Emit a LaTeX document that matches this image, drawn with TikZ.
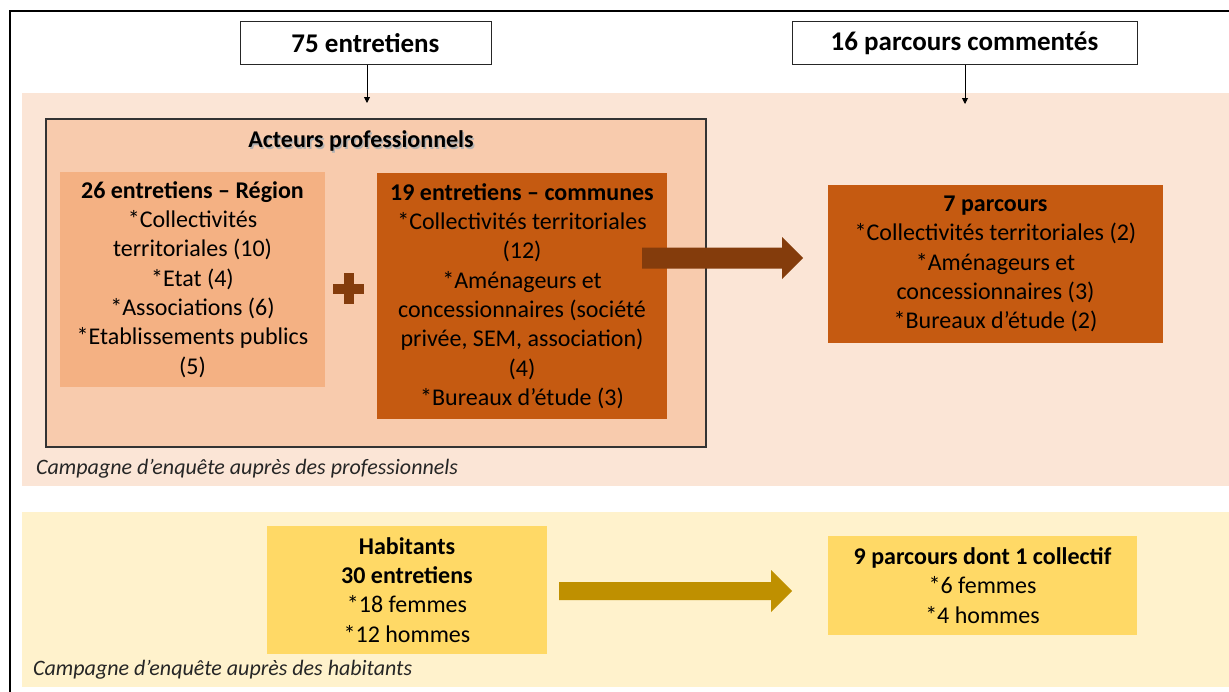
\documentclass[tikz,border=0pt]{standalone}
\usepackage{fontspec}
\setmainfont{Carlito}
\usetikzlibrary{arrows.meta}
\definecolor{pinkbg}{HTML}{FBE5D6}
\definecolor{peach}{HTML}{F8CBAD}
\definecolor{lorange}{HTML}{F4B183}
\definecolor{dorange}{HTML}{C55A11}
\definecolor{dbrown}{HTML}{843C0C}
\definecolor{ylbg}{HTML}{FFF2CC}
\definecolor{ylbox}{HTML}{FFD966}
\definecolor{ylarrow}{HTML}{BF9000}
\begin{document}
\begin{tikzpicture}[x=1pt,y=-1pt,
  txt/.style={font=\fontsize{24}{29.3}\selectfont, align=center, inner sep=0pt},
  topbox/.style={draw=black!85, line width=1pt, fill=white, font=\bfseries\fontsize{27}{30}\selectfont, inner sep=0pt},
  thinarrow/.style={draw=black, line width=0.9pt, -{Triangle[width=6pt,length=6pt]}},
  caption/.style={font=\itshape\fontsize{22}{26}\selectfont, anchor=west, inner sep=0pt, text=black!85},
  titletxt/.style={font=\bfseries\fontsize{24}{29}\selectfont, inner sep=0pt}
]
\useasboundingbox (0,0) rectangle (1229,691);
\clip (0,0) rectangle (1229,691);
\fill[white] (0,0) rectangle (1229,691);
% outer frame
\draw[line width=2pt] (10,720) -- (10,11) -- (1260,11);
% background bands
\fill[pinkbg] (22,93) rectangle (1260,486);
\fill[ylbg] (22,512) rectangle (1260,687);
% top boxes
\node[topbox, minimum width=251pt, minimum height=43pt] (b75) at (365.5,43) {75 entretiens};
\node[topbox, minimum width=345pt, minimum height=43pt] (b16) at (964.5,43) {16 parcours commentés};
\coordinate (a75) at (367,103);
\coordinate (a16) at (965,104);
\draw[thinarrow] (b75.south -| a75) -- (a75);
\draw[thinarrow] (b16.south -| a16) -- (a16);
% acteurs professionnels
\node[draw=black!80, line width=1.2pt, fill=peach, minimum width=660pt, minimum height=328pt, inner sep=0pt] (act) at (376,283) {};
\node[titletxt, text=black!30] at (362.5,142.5) {Acteurs professionnels};
\node[titletxt] (acttitle) at (361,141) {Acteurs professionnels};
\node[txt, fill=lorange, minimum width=265pt, minimum height=215pt] (reg) at (192.5,279.5)
  {\textbf{26 entretiens – Région}\\ *Collectivités\\ territoriales (10)\\ *Etat (4)\\ *Associations (6)\\ *Etablissements publics\\ (5)};
\node[txt, fill=dorange, minimum width=290pt, minimum height=246pt] (com) at (522,296)
  {\textbf{19 entretiens – communes}\\ *Collectivités territoriales\\ (12)\\ *Aménageurs et\\ concessionnaires (société\\ privée, SEM, association)\\ (4)\\ *Bureaux d’étude (3)};
% plus sign
\fill[dbrown] (343.5,273) rectangle (353.5,304);
\fill[dbrown] (333,283.5) rectangle (364,293.5);
% big arrow professionals
\fill[dbrown] (642,247.5) -- (782,247.5) -- (782,237) -- (803,258) -- (782,279) -- (782,268.5) -- (642,268.5) -- cycle;
\node[txt, fill=dorange, minimum width=335pt, minimum height=158pt] (p7) at (995.5,264)
  {\textbf{7 parcours}\\ *Collectivités territoriales (2)\\ *Aménageurs et\\ concessionnaires (3)\\ *Bureaux d’étude (2)};
\node[caption] (cap1) at (36,469) {Campagne d’enquête auprès des professionnels};
% habitants
\node[txt, fill=ylbox, minimum width=280pt, minimum height=128pt] (hab) at (407,590)
  {\textbf{Habitants}\\ \textbf{30 entretiens}\\ *18 femmes\\ *12 hommes};
\fill[ylarrow] (559,582) -- (771,582) -- (771,570) -- (792,591) -- (771,612) -- (771,600) -- (559,600) -- cycle;
\node[txt, fill=ylbox, minimum width=309pt, minimum height=99pt] (p9) at (982.5,585.5)
  {\textbf{9 parcours dont 1 collectif}\\ *6 femmes\\ *4 hommes};
\node[caption] (cap2) at (33,670) {Campagne d’enquête auprès des habitants};
\end{tikzpicture}
\end{document}
